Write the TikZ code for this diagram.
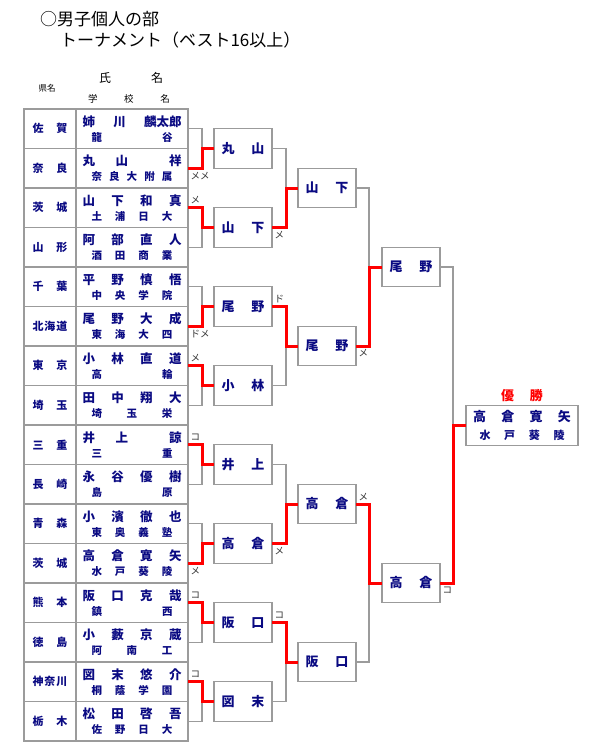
\documentclass[tikz,border=0pt]{standalone}
\usepackage{fontspec}
\setmainfont{Noto Sans CJK JP}
\usepackage{xcolor}
\usetikzlibrary{positioning}
\definecolor{kon}{RGB}{10,10,130}
\definecolor{keisen}{RGB}{155,155,155}
\newcommand{\spc}{\hfill}
\newcommand{\ken}[1]{\hbox to 35pt{#1}}
\newcommand{\senshu}[2]{{\fontsize{12.5}{16}\selectfont\hbox to 99pt{#1}}\\[3pt]{\fontsize{10.5}{14}\selectfont\hbox to 81pt{#2}}}

\begin{document}
\begin{tikzpicture}[
    x=1pt, y=-1pt,
    kencell/.style={draw=keisen,line width=1.2pt,minimum width=52pt,minimum height=39.5pt,inner sep=0pt,outer sep=0pt,text=kon,font=\fontsize{11}{13}\selectfont\bfseries},
    namecell/.style={draw=keisen,line width=1.2pt,minimum width=112pt,minimum height=39.5pt,inner sep=0pt,outer sep=0pt,align=center,text=kon,font=\bfseries},
    kachi/.style={draw=keisen,line width=1.2pt,fill=white,minimum width=58pt,minimum height=39.5pt,inner sep=0pt,outer sep=0pt,align=center,text=kon,font=\fontsize{13}{17}\selectfont\bfseries},
    loseline/.style={draw=keisen,line width=1.2pt},
    winline/.style={draw=red,line width=3pt},
    kime/.style={font=\fontsize{9.5}{11}\selectfont,inner sep=0.5pt,text=black!80}
  ]
    \useasboundingbox (0,0) rectangle (600,750);

    % title and header
    \node[anchor=west,inner sep=0pt,font=\fontsize{17}{19}\selectfont] (midashi) at (40,19) {○男子個人の部};
    \node[anchor=west,inner sep=0pt,font=\fontsize{17}{19}\selectfont] (shubetsu) at (60,40) {トーナメント（ベスト16以上）};
    \node[inner sep=0pt,font=\fontsize{8.5}{10}\selectfont] (hkenmei) at (47,88) {県名};
    \node[inner sep=0pt,font=\fontsize{12}{14}\selectfont] (hshimei) at (131,78) {\hbox to 64pt{氏\spc 名}};
    \node[inner sep=0pt,font=\fontsize{9.5}{11}\selectfont] (hgakko) at (129,99) {\hbox to 82pt{学\spc 校\spc 名}};

    % players
    \node[namecell] (p1) at (132,128.75) {\senshu{姉\spc 川\spc 麟太郎}{龍\spc 谷}};
    \node[namecell,below=0pt of p1] (p2) {\senshu{丸\spc 山\spc\spc 祥}{奈\spc 良\spc 大\spc 附\spc 属}};
    \node[namecell,below=0pt of p2] (p3) {\senshu{山\spc 下\spc 和\spc 真}{土\spc 浦\spc 日\spc 大}};
    \node[namecell,below=0pt of p3] (p4) {\senshu{阿\spc 部\spc 直\spc 人}{酒\spc 田\spc 商\spc 業}};
    \node[namecell,below=0pt of p4] (p5) {\senshu{平\spc 野\spc 慎\spc 悟}{中\spc 央\spc 学\spc 院}};
    \node[namecell,below=0pt of p5] (p6) {\senshu{尾\spc 野\spc 大\spc 成}{東\spc 海\spc 大\spc 四}};
    \node[namecell,below=0pt of p6] (p7) {\senshu{小\spc 林\spc 直\spc 道}{高\spc 輪}};
    \node[namecell,below=0pt of p7] (p8) {\senshu{田\spc 中\spc 翔\spc 大}{埼\spc 玉\spc 栄}};
    \node[namecell,below=0pt of p8] (p9) {\senshu{井\spc 上\spc\spc 諒}{三\spc 重}};
    \node[namecell,below=0pt of p9] (p10) {\senshu{永\spc 谷\spc 優\spc 樹}{島\spc 原}};
    \node[namecell,below=0pt of p10] (p11) {\senshu{小\spc 濱\spc 徹\spc 也}{東\spc 奥\spc 義\spc 塾}};
    \node[namecell,below=0pt of p11] (p12) {\senshu{高\spc 倉\spc 寛\spc 矢}{水\spc 戸\spc 葵\spc 陵}};
    \node[namecell,below=0pt of p12] (p13) {\senshu{阪\spc 口\spc 克\spc 哉}{鎮\spc 西}};
    \node[namecell,below=0pt of p13] (p14) {\senshu{小\spc 藪\spc 京\spc 蔵}{阿\spc 南\spc 工}};
    \node[namecell,below=0pt of p14] (p15) {\senshu{図\spc 末\spc 悠\spc 介}{桐\spc 蔭\spc 学\spc 園}};
    \node[namecell,below=0pt of p15] (p16) {\senshu{松\spc 田\spc 啓\spc 吾}{佐\spc 野\spc 日\spc 大}};

    \node[kencell,left=0pt of p1] (k1) {\ken{佐\spc 賀}};
    \node[kencell,left=0pt of p2] (k2) {\ken{奈\spc 良}};
    \node[kencell,left=0pt of p3] (k3) {\ken{茨\spc 城}};
    \node[kencell,left=0pt of p4] (k4) {\ken{山\spc 形}};
    \node[kencell,left=0pt of p5] (k5) {\ken{千\spc 葉}};
    \node[kencell,left=0pt of p6] (k6) {\ken{北\spc 海\spc 道}};
    \node[kencell,left=0pt of p7] (k7) {\ken{東\spc 京}};
    \node[kencell,left=0pt of p8] (k8) {\ken{埼\spc 玉}};
    \node[kencell,left=0pt of p9] (k9) {\ken{三\spc 重}};
    \node[kencell,left=0pt of p10] (k10) {\ken{長\spc 崎}};
    \node[kencell,left=0pt of p11] (k11) {\ken{青\spc 森}};
    \node[kencell,left=0pt of p12] (k12) {\ken{茨\spc 城}};
    \node[kencell,left=0pt of p13] (k13) {\ken{熊\spc 本}};
    \node[kencell,left=0pt of p14] (k14) {\ken{徳\spc 島}};
    \node[kencell,left=0pt of p15] (k15) {\ken{神\spc 奈\spc 川}};
    \node[kencell,left=0pt of p16] (k16) {\ken{栃\spc 木}};

    % round winners
    \node[kachi] (a1) at (243,148.5) {\hbox to 43pt{丸\spc 山}};
    \node[kachi] (a2) at (243,227.5) {\hbox to 43pt{山\spc 下}};
    \node[kachi] (a3) at (243,306.5) {\hbox to 43pt{尾\spc 野}};
    \node[kachi] (a4) at (243,385.5) {\hbox to 43pt{小\spc 林}};
    \node[kachi] (a5) at (243,464.5) {\hbox to 43pt{井\spc 上}};
    \node[kachi] (a6) at (243,543.5) {\hbox to 43pt{高\spc 倉}};
    \node[kachi] (a7) at (243,622.5) {\hbox to 43pt{阪\spc 口}};
    \node[kachi] (a8) at (243,701.5) {\hbox to 43pt{図\spc 末}};
    \node[kachi] (b1) at (327,188) {\hbox to 43pt{山\spc 下}};
    \node[kachi] (b2) at (327,346) {\hbox to 43pt{尾\spc 野}};
    \node[kachi] (b3) at (327,504) {\hbox to 43pt{高\spc 倉}};
    \node[kachi] (b4) at (327,662) {\hbox to 43pt{阪\spc 口}};
    \node[kachi] (c1) at (411,267) {\hbox to 43pt{尾\spc 野}};
    \node[kachi] (c2) at (411,583) {\hbox to 43pt{高\spc 倉}};
    \node[kachi,minimum width=112pt] (yusho) at (522,425.5) {\hbox to 98pt{高\spc 倉\spc 寛\spc 矢}\\[1pt]{\fontsize{11}{13}\selectfont\hbox to 85pt{水\spc 戸\spc 葵\spc 陵}}};
    \node[above=3pt of yusho,inner sep=1pt,text=red,font=\fontsize{13}{15}\selectfont\bfseries] (yushomei) {\hbox to 42pt{優\spc 勝}};

    % losing lines
    \draw[loseline] (p1.east) -- ++(14,0) |- (a1.west);
    \draw[loseline] (p4.east) -- ++(14,0) |- (a2.west);
    \draw[loseline] (p5.east) -- ++(14,0) |- (a3.west);
    \draw[loseline] (p8.east) -- ++(14,0) |- (a4.west);
    \draw[loseline] (p10.east) -- ++(14,0) |- (a5.west);
    \draw[loseline] (p11.east) -- ++(14,0) |- (a6.west);
    \draw[loseline] (p14.east) -- ++(14,0) |- (a7.west);
    \draw[loseline] (p16.east) -- ++(14,0) |- (a8.west);
    \draw[loseline] (a1.east) -- ++(14,0) |- (b1.west);
    \draw[loseline] (a4.east) -- ++(14,0) |- (b2.west);
    \draw[loseline] (a5.east) -- ++(14,0) |- (b3.west);
    \draw[loseline] (a8.east) -- ++(14,0) |- (b4.west);
    \draw[loseline] (b1.east) -- ++(13,0) |- (c1.west);
    \draw[loseline] (b4.east) -- ++(13,0) |- (c2.west);
    \draw[loseline] (c1.east) -- ++(13,0) |- (yusho.west);

    % winning lines
    \draw[winline] (p2.east) -- ++(14,0) |- (a1.west);
    \draw[winline] (p3.east) -- ++(14,0) |- (a2.west);
    \draw[winline] (p6.east) -- ++(14,0) |- (a3.west);
    \draw[winline] (p7.east) -- ++(14,0) |- (a4.west);
    \draw[winline] (p9.east) -- ++(14,0) |- (a5.west);
    \draw[winline] (p12.east) -- ++(14,0) |- (a6.west);
    \draw[winline] (p13.east) -- ++(14,0) |- (a7.west);
    \draw[winline] (p15.east) -- ++(14,0) |- (a8.west);
    \draw[winline] (a2.east) -- ++(14,0) |- (b1.west);
    \draw[winline] (a3.east) -- ++(14,0) |- (b2.west);
    \draw[winline] (a6.east) -- ++(14,0) |- (b3.west);
    \draw[winline] (a7.east) -- ++(14,0) |- (b4.west);
    \draw[winline] (b2.east) -- ++(13,0) |- (c1.west);
    \draw[winline] (b3.east) -- ++(13,0) |- (c2.west);
    \draw[winline] (c2.east) -- ++(13,0) |- (yusho.west);

    % decisive points
    \node[kime,anchor=north west] (m1) at ([xshift=2pt,yshift=-3pt]p2.east) {メメ};
    \node[kime,anchor=south west] (m2) at ([xshift=2pt,yshift=3pt]p3.east) {メ};
    \node[kime,anchor=north west] (m3) at ([xshift=2pt,yshift=-3pt]p6.east) {ドメ};
    \node[kime,anchor=south west] (m4) at ([xshift=2pt,yshift=3pt]p7.east) {メ};
    \node[kime,anchor=south west] (m5) at ([xshift=2pt,yshift=3pt]p9.east) {コ};
    \node[kime,anchor=north west] (m6) at ([xshift=2pt,yshift=-3pt]p12.east) {メ};
    \node[kime,anchor=south west] (m7) at ([xshift=2pt,yshift=3pt]p13.east) {コ};
    \node[kime,anchor=south west] (m8) at ([xshift=2pt,yshift=3pt]p15.east) {コ};
    \node[kime,anchor=north west] (m9) at ([xshift=2pt,yshift=-3pt]a2.east) {メ};
    \node[kime,anchor=south west] (m10) at ([xshift=2pt,yshift=3pt]a3.east) {ド};
    \node[kime,anchor=north west] (m11) at ([xshift=2pt,yshift=-3pt]a6.east) {メ};
    \node[kime,anchor=south west] (m12) at ([xshift=2pt,yshift=3pt]a7.east) {コ};
    \node[kime,anchor=north west] (m13) at ([xshift=2pt,yshift=-3pt]b2.east) {メ};
    \node[kime,anchor=south west] (m14) at ([xshift=2pt,yshift=3pt]b3.east) {メ};
    \node[kime,anchor=north west] (m15) at ([xshift=2pt,yshift=-3pt]c2.east) {コ};
  \end{tikzpicture}
\end{document}
